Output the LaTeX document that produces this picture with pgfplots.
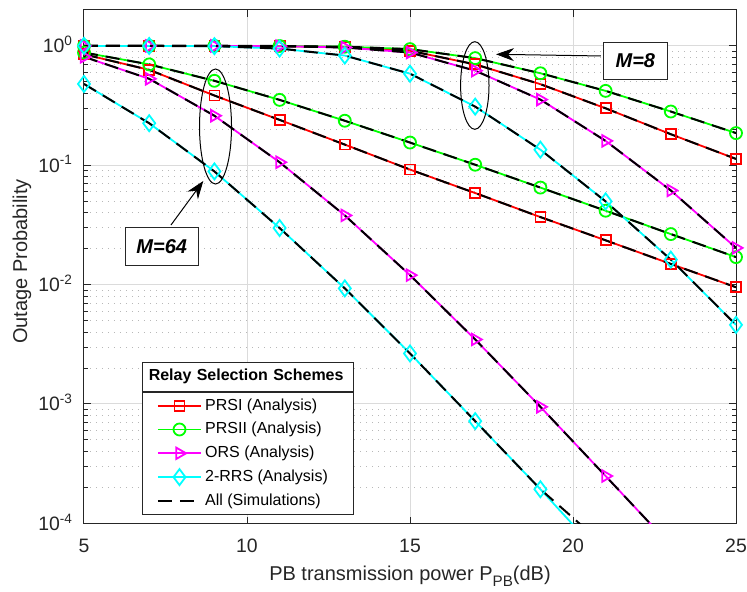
\documentclass[border=0pt]{standalone}
\usepackage{fontspec}
\setmainfont{Liberation Sans}
\usepackage{pgfplots}
\pgfplotsset{compat=1.18}
\usetikzlibrary{arrows.meta}
\definecolor{txt}{RGB}{38,38,38}
\definecolor{cR}{RGB}{255,0,0}
\definecolor{cG}{RGB}{0,255,0}
\definecolor{cM}{RGB}{255,0,255}
\definecolor{cC}{RGB}{0,255,255}
\pgfplotsset{
  ana/.style={line width=0.9pt},
  sim/.style={black, line width=1pt, dash pattern=on 7pt off 4pt, mark=none},
}
\newcommand{\legtxt}[1]{\makebox[65.2pt][l]{#1}}
\begin{document}
\begin{tikzpicture}
\begin{axis}[
  scale only axis, width=326pt, height=256.65pt,
  xmin=5, xmax=25, ymode=log, ymin=1e-4, ymax=2,
  xtick={5,10,15,20,25},
  ytick={1e-4,1e-3,1e-2,1e-1,1},
  yticklabels={10\textsuperscript{-4},10\textsuperscript{-3},10\textsuperscript{-2},10\textsuperscript{-1},10\textsuperscript{0}},
  /pgf/number format/assume math mode=true,
  tick pos=both, tick align=inside,
  major tick length=3.3pt, minor tick length=1.8pt,
  axis line style={draw=txt, line width=0.5pt},
  tick style={draw=txt, line width=0.5pt},
  xmajorgrids, ymajorgrids, yminorgrids,
  major grid style={draw=black!14, line width=0.5pt},
  minor grid style={draw=black!28, line width=0.5pt, dash pattern=on 0.6pt off 2.4pt},
  ticklabel style={font=\fontsize{9.7}{11}\selectfont, text=txt},
  xticklabel style={yshift=-4.5pt},
  yticklabel style={anchor=base east, yshift=-3.5pt, xshift=-2pt},
  xlabel={PB transmission power P\raisebox{-0.33em}{\fontsize{7.6}{9}\selectfont PB}(dB)},
  ylabel={Outage Probability},
  label style={font=\fontsize{10}{12}\selectfont, text=txt},
  xlabel style={at={(axis description cs:0.5,-0.1105)}, anchor=base},
  ylabel style={at={(axis description cs:-0.0874,0.51)}, anchor=base},
  legend style={at={(axis description cs:0.0885,0.2564)}, anchor=north west,
    draw=txt, line width=0.5pt, fill=white, font=\fontsize{8}{9.6}\selectfont,
    text=black, inner xsep=7.3pt, inner ysep=0.8pt, row sep=0pt,
    nodes={inner xsep=1.5pt, inner ysep=1pt, text height=7.2pt, text depth=2.7pt}},
  legend cell align=left,
  legend image code/.code={\draw[#1, mark indices={2}] plot coordinates {(0pt,0pt) (10.85pt,0pt) (21.7pt,0pt)};},
]

% M = 64, analysis
\addplot[ana, cR, mark=square, mark size=2.5pt, mark options={solid, line width=0.9pt}] coordinates {
  (5,0.85) (7,0.63) (9,0.384) (11,0.24) (13,0.149) (15,0.092) (17,0.0585)
  (19,0.0368) (21,0.0235) (23,0.0149) (25,0.0095)};
\addlegendentry{\legtxt{PRSI (Analysis)}}
\addplot[ana, cG, mark=o, mark size=3pt, mark options={solid, line width=0.9pt}] coordinates {
  (5,0.88) (7,0.70) (9,0.51) (11,0.353) (13,0.236) (15,0.155) (17,0.101)
  (19,0.065) (21,0.0416) (23,0.0265) (25,0.017)};
\addlegendentry{\legtxt{PRSII (Analysis)}}
\addplot[ana, cM, mark=triangle, mark size=3.3pt, mark options={solid, line width=0.9pt, rotate=-90},
  mark indices={1,2,3,4,5,6,7,8,9}] coordinates {
  (5,0.81) (7,0.53) (9,0.26) (11,0.106) (13,0.038) (15,0.012) (17,0.00347)
  (19,0.000946) (21,0.000249) (23,0.000065) (25,0.000016)};
\addlegendentry{\legtxt{ORS (Analysis)}}
\addplot[ana, cC, mark=diamond, mark size=4pt, mark options={solid, line width=0.9pt},
  mark indices={1,2,3,4,5,6,7,8}] coordinates {
  (5,0.48) (7,0.225) (9,0.0888) (11,0.0298) (13,0.0093) (15,0.00265) (17,0.000718)
  (19,0.000193) (21,0.000049) (23,0.000012) (25,0.000003)};
\addlegendentry{\legtxt{2-RRS (Analysis)}}

% M = 8, analysis
\addplot[ana, cR, mark=square, mark size=2.5pt, mark options={solid, line width=0.9pt}, forget plot] coordinates {
  (5,1) (7,1) (9,0.999) (11,0.995) (13,0.975) (15,0.91) (17,0.70)
  (19,0.478) (21,0.30) (23,0.182) (25,0.113)};
\addplot[ana, cG, mark=o, mark size=3pt, mark options={solid, line width=0.9pt}, forget plot] coordinates {
  (5,1) (7,1) (9,1) (11,0.998) (13,0.985) (15,0.94) (17,0.79)
  (19,0.59) (21,0.42) (23,0.282) (25,0.186)};
\addplot[ana, cM, mark=triangle, mark size=3.3pt, mark options={solid, line width=0.9pt, rotate=-90}, forget plot] coordinates {
  (5,1) (7,1) (9,0.999) (11,0.995) (13,0.97) (15,0.88) (17,0.62)
  (19,0.355) (21,0.16) (23,0.0615) (25,0.0203)};
\addplot[ana, cC, mark=diamond, mark size=4pt, mark options={solid, line width=0.9pt}, forget plot] coordinates {
  (5,1) (7,0.999) (9,0.995) (11,0.95) (13,0.83) (15,0.585) (17,0.31)
  (19,0.135) (21,0.0498) (23,0.0162) (25,0.0046)};

% simulations
\addplot[sim] coordinates {
  (5,0.85) (7,0.63) (9,0.384) (11,0.24) (13,0.149) (15,0.092) (17,0.0585)
  (19,0.0368) (21,0.0235) (23,0.0149) (25,0.0095)};
\addlegendentry{\legtxt{All (Simulations)}}
\addplot[sim, forget plot] coordinates {
  (5,0.88) (7,0.70) (9,0.51) (11,0.353) (13,0.236) (15,0.155) (17,0.101)
  (19,0.065) (21,0.0416) (23,0.0265) (25,0.017)};
\addplot[sim, forget plot] coordinates {
  (5,0.81) (7,0.53) (9,0.26) (11,0.106) (13,0.038) (15,0.012) (17,0.00347)
  (19,0.000946) (21,0.000249) (23,0.000065) (25,0.000016)};
\addplot[sim, forget plot] coordinates {
  (5,0.48) (7,0.225) (9,0.0888) (11,0.0298) (13,0.0093) (15,0.00265) (17,0.000718)
  (19,0.000193) (21,0.000064) (23,0.000019) (25,0.000005)};
\addplot[sim, forget plot] coordinates {
  (5,1) (7,1) (9,0.999) (11,0.995) (13,0.975) (15,0.91) (17,0.70)
  (19,0.478) (21,0.30) (23,0.182) (25,0.113)};
\addplot[sim, forget plot] coordinates {
  (5,1) (7,1) (9,1) (11,0.998) (13,0.985) (15,0.94) (17,0.79)
  (19,0.59) (21,0.42) (23,0.282) (25,0.186)};
\addplot[sim, forget plot] coordinates {
  (5,1) (7,1) (9,0.999) (11,0.995) (13,0.97) (15,0.88) (17,0.62)
  (19,0.355) (21,0.16) (23,0.0615) (25,0.0203)};
\addplot[sim, forget plot] coordinates {
  (5,1) (7,0.999) (9,0.995) (11,0.95) (13,0.83) (15,0.585) (17,0.31)
  (19,0.135) (21,0.0498) (23,0.0162) (25,0.0046)};

% annotations
\draw[black, line width=0.5pt] (axis description cs:0.2017,0.7730) ellipse [x radius=8pt, y radius=28.75pt];
\draw[black, line width=0.5pt] (axis description cs:0.5994,0.8529) ellipse [x radius=7.1pt, y radius=21.9pt];
\draw[black, line width=0.5pt, -{Stealth[length=9pt, width=6.5pt, inset=3pt]}]
  (axis description cs:0.1334,0.5811) -- (axis description cs:0.1830,0.6669);
\draw[black, line width=0.5pt, -{Stealth[length=9pt, width=6.5pt, inset=3pt]}]
  (axis description cs:0.7929,0.9104) -- (axis description cs:0.6319,0.9137);
\node[draw=txt, fill=white, line width=0.5pt, minimum width=36.7pt, minimum height=18.7pt,
  inner sep=0pt, font=\fontsize{10}{12}\selectfont\bfseries\itshape]
  at (axis description cs:0.1192,0.5396) {M=64};
\node[draw=txt, fill=white, line width=0.5pt, minimum width=32pt, minimum height=18.3pt,
  inner sep=0pt, font=\fontsize{10}{12}\selectfont\bfseries\itshape]
  at (axis description cs:0.8456,0.9006) {M=8};
\node[draw=txt, fill=white, line width=0.5pt, anchor=south west, text width=98.9pt,
  inner xsep=3.3pt, inner ysep=0pt, minimum height=14.5pt, align=left,
  font=\fontsize{8}{9.6}\selectfont\bfseries]
  at (axis description cs:0.0885,0.2564) {Relay Selection Schemes};
\end{axis}
\pgfresetboundingbox
\path (-42pt,-34.35pt) rectangle (331.5pt,261.65pt);
\end{tikzpicture}
\end{document}
